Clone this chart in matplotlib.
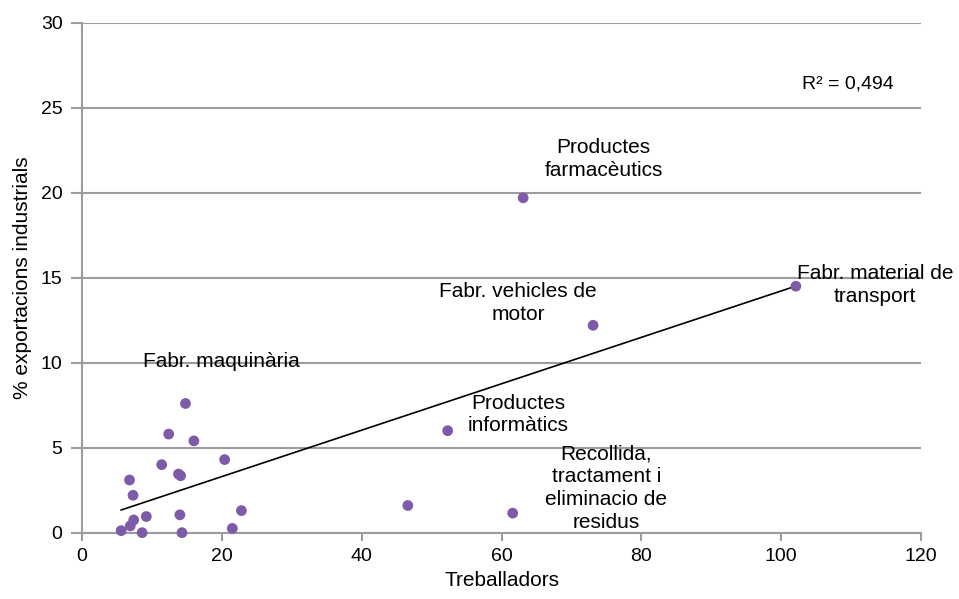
"""
Scatter of industrial exports share vs workers, with linear trendline.
"""

import numpy as np
import matplotlib.pyplot as plt

plt.rcParams["font.family"] = ["Liberation Sans", "DejaVu Sans"]

# workers (x) and % of industrial exports (y)
treballadors = [
    14.8, 12.4, 16.0, 20.4, 11.4, 13.8, 14.1, 6.8, 7.3, 22.8,
    9.2, 14.0, 7.4, 6.9, 5.6, 8.6, 14.3, 21.5,
    52.3, 46.6, 61.6, 63.1, 73.1, 102.1,
]
exportacions = [
    7.6, 5.8, 5.4, 4.3, 4.0, 3.45, 3.35, 3.1, 2.2, 1.3,
    0.95, 1.05, 0.75, 0.4, 0.12, 0.0, 0.0, 0.25,
    6.0, 1.6, 1.15, 19.7, 12.2, 14.5,
]

# trendline as reported in the original chart
trend_slope = 0.1365
trend_intercept = 0.57
r2_text = "R² = 0,494"

labels = [
    ("Productes\nfarmacèutics", 74.6, 22.0),
    ("Fabr. vehicles de\nmotor", 62.4, 13.5),
    ("Fabr. material de\ntransport", 113.4, 14.55),
    ("Fabr. maquinària", 20.0, 10.05),
    ("Productes\ninformàtics", 62.4, 6.95),
    ("Recollida,\ntractament i\neliminacio de\nresidus", 75.0, 2.63),
]

grid_color = "#9c9c9c"
point_color = "#7e5ba8"

fig = plt.figure(figsize=(9.59, 5.99), dpi=100)
ax = fig.add_axes([0.0855, 0.1107, 0.8749, 0.8514])

ax.set_xlim(0, 120)
ax.set_ylim(0, 30)
ax.set_xticks(range(0, 121, 20))
ax.set_yticks(range(0, 31, 5))

ax.yaxis.grid(True, color=grid_color, linewidth=1.5)
ax.set_axisbelow(True)

for side in ["top", "right"]:
    ax.spines[side].set_visible(False)
for side in ["left", "bottom"]:
    ax.spines[side].set_color(grid_color)
    ax.spines[side].set_linewidth(1.5)

ax.tick_params(axis="y", length=8, width=1.5, color=grid_color,
               labelsize=14, pad=6)
ax.tick_params(axis="x", length=6, width=1.5, color=grid_color,
               labelsize=14, pad=5)

x_line = np.array([min(treballadors), max(treballadors)])
ax.plot(x_line, trend_slope * x_line + trend_intercept,
        color="black", linewidth=1.2, zorder=2)

ax.scatter(treballadors, exportacions, s=60, color=point_color,
           edgecolors="none", zorder=3, clip_on=False)

for text, x, y in labels:
    ax.text(x, y, text, ha="center", va="center", fontsize=15,
            linespacing=1.25, zorder=4)

ax.text(109.5, 26.4, r2_text, ha="center", va="center", fontsize=14)

ax.set_xlabel("Treballadors", fontsize=15, labelpad=4)
ax.set_ylabel("% exportacions industrials", fontsize=15, labelpad=6)

fig.savefig("out.png", dpi=100)
